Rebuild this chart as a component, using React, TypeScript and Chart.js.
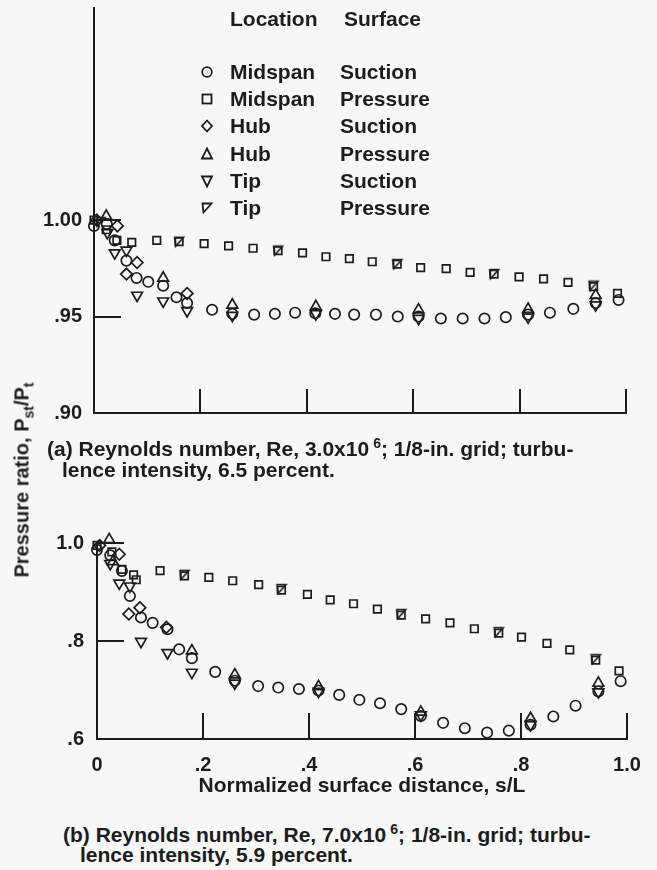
import React, { useEffect, useRef } from 'react';
import { Chart, registerables } from 'chart.js';

Chart.register(...registerables);

type Pt = [number, number];

// ---- (a) Re = 3.0x10^6, turbulence intensity 6.5 percent ----
const aMidspanSuction: Pt[] = [
  [0, 0.997], [0.024, 0.998], [0.039, 0.9895], [0.061, 0.979], [0.08, 0.97],
  [0.102, 0.968], [0.13, 0.966], [0.155, 0.96], [0.175, 0.957], [0.222, 0.9535],
  [0.26, 0.9514], [0.301, 0.951], [0.34, 0.9514], [0.378, 0.952], [0.416, 0.9517],
  [0.453, 0.9514], [0.489, 0.951], [0.53, 0.951], [0.571, 0.95], [0.61, 0.95],
  [0.652, 0.949], [0.693, 0.949], [0.734, 0.949], [0.774, 0.9497], [0.816, 0.951],
  [0.857, 0.952], [0.901, 0.954], [0.943, 0.957], [0.986, 0.9586],
];
const aMidspanPressure: Pt[] = [
  [0, 1.0], [0.023, 0.995], [0.043, 0.9895], [0.071, 0.9885], [0.118, 0.9895],
  [0.16, 0.9888], [0.207, 0.9878], [0.253, 0.9866], [0.299, 0.9854], [0.346, 0.9842],
  [0.392, 0.983], [0.436, 0.981], [0.48, 0.98], [0.523, 0.9784], [0.57, 0.9772],
  [0.614, 0.9754], [0.662, 0.9748], [0.707, 0.9729], [0.752, 0.972], [0.799, 0.9706],
  [0.845, 0.9695], [0.891, 0.9677], [0.939, 0.9655], [0.984, 0.962],
];
const aHubSuction: Pt[] = [
  [0.005, 1.0], [0.044, 0.997], [0.061, 0.972], [0.081, 0.978], [0.175, 0.962],
];
const aHubPressure: Pt[] = [
  [0.023, 1.002], [0.13, 0.97], [0.26, 0.956], [0.417, 0.9552], [0.61, 0.9535],
  [0.816, 0.9538], [0.943, 0.961],
];
const aTipSuction: Pt[] = [
  [0.025, 0.9935], [0.039, 0.983], [0.061, 0.9844], [0.081, 0.961], [0.13, 0.958],
  [0.175, 0.953], [0.26, 0.9506], [0.417, 0.9514], [0.61, 0.949], [0.816, 0.9497],
  [0.943, 0.956],
];
const aTipPressure: Pt[] = [
  [0.012, 0.999], [0.16, 0.9888], [0.346, 0.9842], [0.57, 0.9772], [0.752, 0.972],
  [0.939, 0.966],
];

// ---- (b) Re = 7.0x10^6, turbulence intensity 5.9 percent ----
const bMidspanSuction: Pt[] = [
  [0, 0.986], [0.025, 0.975], [0.047, 0.943], [0.062, 0.892], [0.083, 0.848],
  [0.105, 0.837], [0.133, 0.824], [0.155, 0.783], [0.179, 0.765], [0.223, 0.737],
  [0.26, 0.719], [0.304, 0.708], [0.342, 0.705], [0.381, 0.702], [0.418, 0.699],
  [0.457, 0.69], [0.495, 0.68], [0.534, 0.673], [0.574, 0.661], [0.611, 0.647],
  [0.653, 0.633], [0.694, 0.622], [0.736, 0.613], [0.777, 0.617], [0.818, 0.629],
  [0.861, 0.646], [0.903, 0.668], [0.946, 0.697], [0.988, 0.718],
];
const bMidspanPressure: Pt[] = [
  [0, 0.995], [0.028, 0.982], [0.047, 0.946], [0.069, 0.935], [0.074, 0.925],
  [0.119, 0.9435], [0.165, 0.933], [0.211, 0.93], [0.256, 0.923], [0.305, 0.915],
  [0.348, 0.904], [0.397, 0.895], [0.44, 0.884], [0.484, 0.876], [0.529, 0.865],
  [0.574, 0.853], [0.62, 0.845], [0.666, 0.837], [0.712, 0.825], [0.758, 0.816],
  [0.801, 0.808], [0.849, 0.795], [0.892, 0.782], [0.941, 0.761], [0.985, 0.739],
];
const bHubSuction: Pt[] = [
  [0.005, 0.995], [0.042, 0.977], [0.06, 0.855], [0.081, 0.868], [0.131, 0.828],
];
const bHubPressure: Pt[] = [
  [0.023, 1.007], [0.03, 0.962], [0.179, 0.78], [0.26, 0.731], [0.418, 0.707],
  [0.611, 0.655], [0.818, 0.642], [0.946, 0.714],
];
const bTipSuction: Pt[] = [
  [0.025, 0.958], [0.042, 0.918], [0.062, 0.912], [0.083, 0.799], [0.133, 0.776],
  [0.179, 0.736], [0.26, 0.714], [0.418, 0.697], [0.611, 0.649], [0.818, 0.629],
  [0.946, 0.696],
];
const bTipPressure: Pt[] = [
  [0.165, 0.935], [0.348, 0.906], [0.574, 0.855], [0.758, 0.818], [0.941, 0.763],
];

// ---- axes ----
const xTicks = [0, 0.2, 0.4, 0.6, 0.8, 1.0];
const xTickLabels = ['0', '.2', '.4', '.6', '.8', '1.0'];
const aYTicks = [0.9, 0.95, 1.0];
const aYTickLabels = ['.90', '.95', '1.00'];
const bYTicks = [0.6, 0.8, 1.0];
const bYTickLabels = ['.6', '.8', '1.0'];

// ---- legend ----
const legendShapes = ['circle', 'square', 'diamond', 'up', 'down', 'flag'];
const legendLocations = ['Midspan', 'Midspan', 'Hub', 'Hub', 'Tip', 'Tip'];
const legendSurfaces = ['Suction', 'Pressure', 'Suction', 'Pressure', 'Suction', 'Pressure'];

const INK = '#1c1c1c';
const PAPER = '#f7f7f7';
const FONT = '"Liberation Sans", Arial, Helvetica, sans-serif';

function flagMarker(): HTMLCanvasElement {
  const c = document.createElement('canvas');
  c.width = 16;
  c.height = 16;
  const ctx = c.getContext('2d')!;
  ctx.strokeStyle = INK;
  ctx.lineWidth = 1.6;
  ctx.beginPath();
  ctx.moveTo(3.5, 3.5);
  ctx.lineTo(12.5, 3.5);
  ctx.lineTo(4.5, 12.5);
  ctx.closePath();
  ctx.stroke();
  return c;
}

function series(label: string, pts: Pt[], style: any, radius: number, rotation = 0) {
  return {
    label,
    data: pts.map(([x, y]) => ({ x, y })),
    showLine: false,
    pointStyle: style,
    pointRadius: radius,
    pointRotation: rotation,
    pointBackgroundColor: 'rgba(0,0,0,0)',
    pointBorderColor: INK,
    pointBorderWidth: 1.7,
    clip: false as any,
  };
}

function datasets(
  ms: Pt[], mp: Pt[], hs: Pt[], hp: Pt[], ts: Pt[], tp: Pt[], flag: HTMLCanvasElement,
) {
  return [
    series('Midspan Suction', ms, 'circle', 5.2),
    series('Midspan Pressure', mp, 'rect', 5.3),
    series('Hub Suction', hs, 'rectRot', 5.8),
    series('Hub Pressure', hp, 'triangle', 6.2),
    series('Tip Suction', ts, 'triangle', 6.2, 180),
    series('Tip Pressure', tp, flag, 6),
  ];
}

interface PanelCfg {
  yMin: number;
  yMax: number;
  yTicks: number[];
  yLabels: string[];
  yWidth: number;
  yTickLen: number;
  yLabelPad: number;
  xHeight: number;
  xTickLen: number;
  padTop: number;
  padRight: number;
  showX: boolean;
}

function panelOptions(cfg: PanelCfg): any {
  const font = { family: FONT, size: 20, weight: 'bold' as const };
  return {
    responsive: false,
    animation: false,
    events: [],
    layout: { padding: { top: cfg.padTop, right: cfg.padRight, left: 0, bottom: 0 } },
    plugins: { legend: { display: false }, tooltip: { enabled: false } },
    scales: {
      x: {
        type: 'linear',
        min: 0,
        max: 1,
        afterBuildTicks: (s: any) => { s.ticks = xTicks.map((v) => ({ value: v })); },
        afterFit: (s: any) => { s.height = cfg.xHeight; s.paddingLeft = 0; s.paddingRight = 0; },
        grid: { drawOnChartArea: false, drawTicks: true, tickLength: -cfg.xTickLen, color: INK, lineWidth: 2 },
        border: { display: true, color: INK, width: 2 },
        ticks: {
          display: cfg.showX,
          autoSkip: false,
          maxRotation: 0,
          padding: cfg.xTickLen + 14,
          color: INK,
          font,
          callback: (_v: any, i: number) => xTickLabels[i],
        },
        title: {
          display: cfg.showX,
          text: 'Normalized surface distance, s/L',
          color: INK,
          font: { family: FONT, size: 21, weight: 'bold' },
          padding: { top: 0, bottom: 1 },
        },
      },
      y: {
        type: 'linear',
        min: cfg.yMin,
        max: cfg.yMax,
        afterBuildTicks: (s: any) => { s.ticks = cfg.yTicks.map((v) => ({ value: v })); },
        afterFit: (s: any) => { s.width = cfg.yWidth; s.paddingTop = 0; s.paddingBottom = 0; },
        grid: { drawOnChartArea: false, drawTicks: true, tickLength: -cfg.yTickLen, color: INK, lineWidth: 2 },
        border: { display: true, color: INK, width: 2 },
        ticks: {
          autoSkip: false,
          padding: cfg.yLabelPad,
          color: INK,
          font,
          callback: (_v: any, i: number) => cfg.yLabels[i],
        },
      },
    },
  };
}

function LegendSymbol({ shape }: { shape: string }) {
  const common = { fill: 'none', stroke: INK, strokeWidth: 1.8 };
  let el: React.ReactNode = null;
  if (shape === 'circle') el = <circle cx={8} cy={8} r={4.8} {...common} />;
  if (shape === 'square') el = <rect x={3.5} y={3.5} width={9} height={9} {...common} />;
  if (shape === 'diamond') el = <polygon points="8,2.5 13,8 8,13.5 3,8" {...common} />;
  if (shape === 'up') el = <polygon points="8,2.5 13,12.5 3,12.5" {...common} />;
  if (shape === 'down') el = <polygon points="3,3.5 13,3.5 8,13.5" {...common} />;
  if (shape === 'flag') el = <polygon points="3.5,3.5 12.5,3.5 4.5,12.5" {...common} />;
  return (
    <svg width={16} height={16} style={{ position: 'absolute', left: 199, top: -8 }}>
      {el}
    </svg>
  );
}

const textStyle: React.CSSProperties = {
  position: 'absolute',
  whiteSpace: 'nowrap',
  fontSize: 21,
  fontWeight: 'bold',
  lineHeight: '26px',
};

export default function App() {
  const topRef = useRef<HTMLCanvasElement>(null);
  const botRef = useRef<HTMLCanvasElement>(null);

  useEffect(() => {
    const flag = flagMarker();
    const top = new Chart(topRef.current!, {
      type: 'scatter',
      data: {
        datasets: datasets(aMidspanSuction, aMidspanPressure, aHubSuction, aHubPressure, aTipSuction, aTipPressure, flag) as any,
      },
      options: panelOptions({
        yMin: 0.9, yMax: 1.11, yTicks: aYTicks, yLabels: aYTickLabels,
        yWidth: 94, yTickLen: 27, yLabelPad: 39,
        xHeight: 27, xTickLen: 24, padTop: 5, padRight: 31, showX: false,
      }),
    });
    const bottom = new Chart(botRef.current!, {
      type: 'scatter',
      data: {
        datasets: datasets(bMidspanSuction, bMidspanPressure, bHubSuction, bHubPressure, bTipSuction, bTipPressure, flag) as any,
      },
      options: panelOptions({
        yMin: 0.6, yMax: 1.0, yTicks: bYTicks, yLabels: bYTickLabels,
        yWidth: 97, yTickLen: 27, yLabelPad: 40,
        xHeight: 61, xTickLen: 26, padTop: 43, padRight: 30, showX: true,
      }),
    });
    return () => {
      top.destroy();
      bottom.destroy();
    };
  }, []);

  return (
    <div
      style={{
        position: 'absolute', left: 0, top: 0, width: 657, height: 870,
        background: PAPER, color: INK, fontFamily: FONT, overflow: 'hidden',
      }}
    >
      <canvas ref={topRef} width={657} height={440} style={{ position: 'absolute', left: 0, top: 0 }} />
      <canvas ref={botRef} width={657} height={300} style={{ position: 'absolute', left: 0, top: 500 }} />

      {/* legend */}
      <div style={{ ...textStyle, left: 230, top: 6 }}>Location</div>
      <div style={{ ...textStyle, left: 344, top: 6 }}>Surface</div>
      {legendShapes.map((shape, i) => {
        const cy = 72 + i * 27.2;
        return (
          <div key={i} style={{ position: 'absolute', left: 0, top: cy, width: 0, height: 0 }}>
            <LegendSymbol shape={shape} />
            <div style={{ ...textStyle, left: 230, top: -13 }}>{legendLocations[i]}</div>
            <div style={{ ...textStyle, left: 340, top: -13 }}>{legendSurfaces[i]}</div>
          </div>
        );
      })}

      {/* shared y-axis title */}
      <div
        style={{
          ...textStyle,
          fontSize: 20,
          left: 25,
          top: 480,
          transform: 'translate(-50%, -50%) rotate(-90deg)',
        }}
      >
        Pressure ratio, P<sub style={{ fontSize: 14 }}>st</sub>/P<sub style={{ fontSize: 14 }}>t</sub>
      </div>

      {/* panel captions */}
      <div style={{ ...textStyle, left: 47, top: 430 }}>
        (a) Reynolds number, Re, 3.0x10<sup style={{ fontSize: 14, marginLeft: 4 }}>6</sup>; 1/8-in. grid; turbu-
      </div>
      <div style={{ ...textStyle, left: 62, top: 457 }}>lence intensity, 6.5 percent.</div>
      <div style={{ ...textStyle, left: 63, top: 816 }}>
        (b) Reynolds number, Re, 7.0x10<sup style={{ fontSize: 14, marginLeft: 4 }}>6</sup>; 1/8-in. grid; turbu-
      </div>
      <div style={{ ...textStyle, left: 80, top: 842 }}>lence intensity, 5.9 percent.</div>
    </div>
  );
}
